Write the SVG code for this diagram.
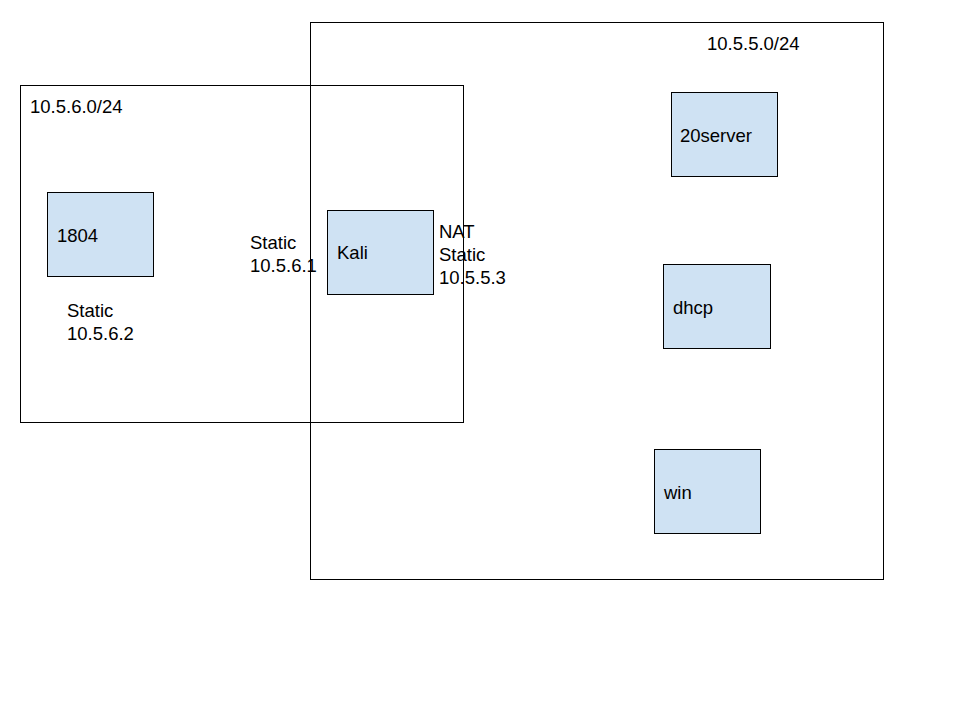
<svg xmlns="http://www.w3.org/2000/svg" width="960" height="720" viewBox="0 0 960 720">
<style>
text{font-family:"Liberation Sans",Arial,sans-serif;font-size:18.5px;fill:#000}
.frame{fill:none;stroke:#000;stroke-width:1}
.node{fill:#cfe2f3;stroke:#000;stroke-width:1}
</style>
<rect width="960" height="720" fill="#fff"/>
<g id="labels">
<text x="250" y="249">Static</text>
<text x="250" y="272">10.5.6.1</text>
<text x="439" y="238">NAT</text>
<text x="439" y="261">Static</text>
<text x="439" y="284">10.5.5.3</text>
<text x="67" y="317">Static</text>
<text x="67" y="340">10.5.6.2</text>
</g>
<g id="net-10-5-6">
<rect class="frame" x="20.5" y="85.5" width="443" height="337"/>
<text x="30" y="113">10.5.6.0/24</text>
</g>
<g id="net-10-5-5">
<rect class="frame" x="310.5" y="22.5" width="573" height="557"/>
<text x="707" y="50">10.5.5.0/24</text>
</g>
<g id="connectors"></g>
<g id="node-1804">
<rect class="node" x="47.5" y="192.5" width="106" height="84"/>
<text x="57" y="242">1804</text>
</g>
<g id="node-kali">
<rect class="node" x="327.5" y="210.5" width="106" height="84"/>
<text x="337" y="259">Kali</text>
</g>
<g id="node-20server">
<rect class="node" x="671.5" y="92.5" width="106" height="84"/>
<text x="680" y="142">20server</text>
</g>
<g id="node-dhcp">
<rect class="node" x="663.5" y="264.5" width="107" height="84"/>
<text x="673" y="314">dhcp</text>
</g>
<g id="node-win">
<rect class="node" x="654.5" y="449.5" width="106" height="84"/>
<text x="664" y="499">win</text>
</g>
</svg>
